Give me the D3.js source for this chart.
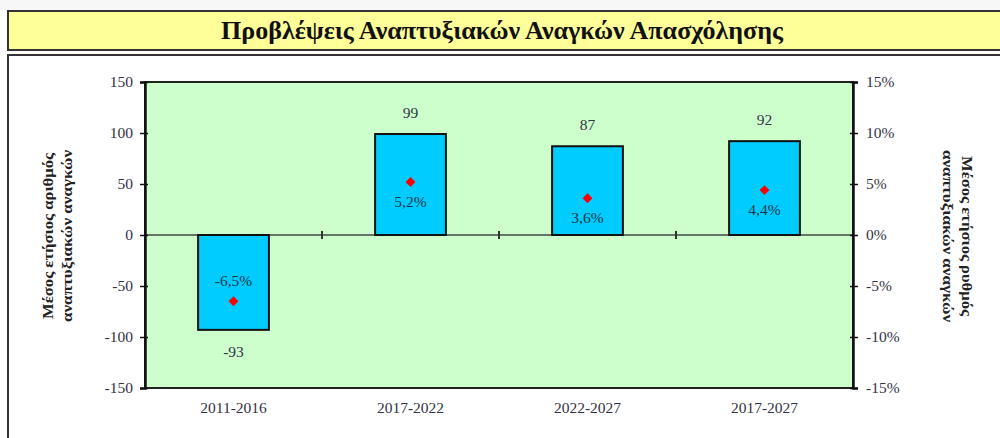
<!DOCTYPE html>
<html><head><meta charset="utf-8">
<script src="https://cdn.jsdelivr.net/npm/d3@7/dist/d3.min.js"></script>
<style>
html,body{margin:0;padding:0;background:#fff;}
svg{display:block;}
</style></head>
<body>
<svg id="c" width="1000" height="438"></svg>
<script>
const title = "Προβλέψεις Αναπτυξιακών Αναγκών Απασχόλησης";
const categories = ["2011-2016", "2017-2022", "2022-2027", "2017-2027"];
const values = [-93, 99, 87, 92];
const rates = [-6.5, 5.2, 3.6, 4.4];
const leftTicks = [-150, -100, -50, 0, 50, 100, 150];
const rightTicks = [-15, -10, -5, 0, 5, 10, 15];
const leftTitle = ["Μέσος ετήσιος αριθμός", "αναπτυξιακών αναγκών"];
const rightTitle = ["Μέσος ετήσιος ρυθμός", "αναπτυξιακών αναγκών"];

const svg = d3.select("#c");
const font = "'Liberation Serif', 'Times New Roman', serif";
const txt = "#333344";
const hy = s => String(s).replace(/\u2212/g, "-");

svg.append("rect").attr("x",0).attr("y",0).attr("width",1000).attr("height",10).attr("fill","#f7f7f7");

// title box
svg.append("rect").attr("x",8).attr("y",11).attr("width",1000).attr("height",39)
  .attr("fill","#ffff99").attr("stroke","#333").attr("stroke-width",2);
svg.append("text").attr("x",502).attr("y",39).attr("text-anchor","middle")
  .attr("font-family",font).attr("font-weight","bold").attr("font-size",26).attr("fill","#111")
  .text(title);

// chart frame
svg.append("rect").attr("x",8).attr("y",55).attr("width",1000).attr("height",400)
  .attr("fill","#fff").attr("stroke","#333").attr("stroke-width",2);

const L = 145, R = 853, T = 82, B = 388;
const x = d3.scaleBand().domain(categories).range([L, R]).paddingInner(0.6).paddingOuter(0.3);
const xb = d3.scaleBand().domain(categories).range([L, R]);
const y = d3.scaleLinear().domain([-150, 150]).range([B, T]);
const y2 = d3.scaleLinear().domain([-15, 15]).range([B, T]);

svg.append("rect").attr("x",L).attr("y",T).attr("width",R-L).attr("height",B-T)
  .attr("fill","#ccffcc").attr("stroke","#222").attr("stroke-width",2);

// zero line
svg.append("line").attr("x1",L).attr("x2",R).attr("y1",y(0)).attr("y2",y(0))
  .attr("stroke","#444").attr("stroke-width",1.5);
// category divider ticks on zero line
svg.selectAll(".ct").data(categories.slice(1)).enter().append("line")
  .attr("x1",d=>xb(d)).attr("x2",d=>xb(d)).attr("y1",y(0)-4).attr("y2",y(0)+4)
  .attr("stroke","#333").attr("stroke-width",2);

// left axis
const ga = svg.append("g").attr("transform",`translate(${L},0)`)
  .call(d3.axisLeft(y).tickValues(leftTicks).tickSize(5).tickPadding(7).tickFormat(d=>hy(d)));
ga.select(".domain").attr("stroke","#111").attr("stroke-width",2.5);
ga.selectAll(".tick line").attr("stroke","#111").attr("stroke-width",1.5).attr("x2",-5).attr("x1",3);
ga.selectAll("text").attr("font-family",font).attr("font-size",15.5).attr("fill",txt);

// right axis
const gb = svg.append("g").attr("transform",`translate(${R},0)`)
  .call(d3.axisRight(y2).tickValues(rightTicks).tickSize(5).tickPadding(8).tickFormat(d=>hy(d)+"%"));
gb.select(".domain").attr("stroke","#111").attr("stroke-width",2.5);
gb.selectAll(".tick line").attr("stroke","#111").attr("stroke-width",1.5).attr("x1",-3).attr("x2",5);
gb.selectAll("text").attr("font-family",font).attr("font-size",15.5).attr("fill",txt);

// bottom axis labels
const gx = svg.append("g").attr("transform",`translate(0,${B})`)
  .call(d3.axisBottom(xb).tickSize(0).tickPadding(14));
gx.select(".domain").remove();
gx.selectAll("text").attr("font-family",font).attr("font-size",15.5).attr("fill",txt);

// bars
const data = categories.map((c,i)=>({c, v:values[i], r:rates[i]}));
svg.selectAll(".bar").data(data).enter().append("rect")
  .attr("x",d=>x(d.c)).attr("width",x.bandwidth())
  .attr("y",d=>y(Math.max(0,d.v))).attr("height",d=>Math.abs(y(d.v)-y(0)))
  .attr("fill","#00ccff").attr("stroke","#111").attr("stroke-width",2);

// value labels
svg.selectAll(".vl").data(data).enter().append("text")
  .attr("x",d=>x(d.c)+x.bandwidth()/2)
  .attr("y",d=>d.v>=0 ? y(d.v)-16 : y(d.v)+27)
  .attr("text-anchor","middle").attr("font-family",font).attr("font-size",15.5).attr("fill",txt)
  .text(d=>hy(d.v));

// rate markers (square diamonds)
svg.selectAll(".mk").data(data).enter().append("rect")
  .attr("x",-3.5).attr("y",-3.5).attr("width",7).attr("height",7)
  .attr("transform",d=>`translate(${x(d.c)+x.bandwidth()/2},${y2(d.r)}) rotate(45)`)
  .attr("fill","#ff0000");

svg.selectAll(".rl").data(data).enter().append("text")
  .attr("x",d=>x(d.c)+x.bandwidth()/2)
  .attr("y",d=>d.r>=0 ? y2(d.r)+25 : y2(d.r)-15)
  .attr("text-anchor","middle").attr("font-family",font).attr("font-size",15.5).attr("fill","#113344")
  .text(d=>d3.format(".1f")(d.r).replace(".",",").replace("\u2212","-")+"%");

// axis titles
const lt = svg.append("text").attr("transform",`translate(57,236) rotate(-90)`)
  .attr("text-anchor","middle").attr("font-family",font).attr("font-weight","bold").attr("font-size",15).attr("fill","#222");
leftTitle.forEach((s,i)=>lt.append("tspan").attr("x",0).attr("dy",i===0?-4:19)
  .attr("textLength",i===0?166:172).attr("lengthAdjust","spacingAndGlyphs").text(s));

const rt = svg.append("text").attr("transform",`translate(958,236) rotate(90)`)
  .attr("text-anchor","middle").attr("font-family",font).attr("font-weight","bold").attr("font-size",15).attr("fill","#222");
rightTitle.forEach((s,i)=>rt.append("tspan").attr("x",0).attr("dy",i===0?-4:19)
  .attr("textLength",i===0?160:172).attr("lengthAdjust","spacingAndGlyphs").text(s));
</script>
</body></html>
